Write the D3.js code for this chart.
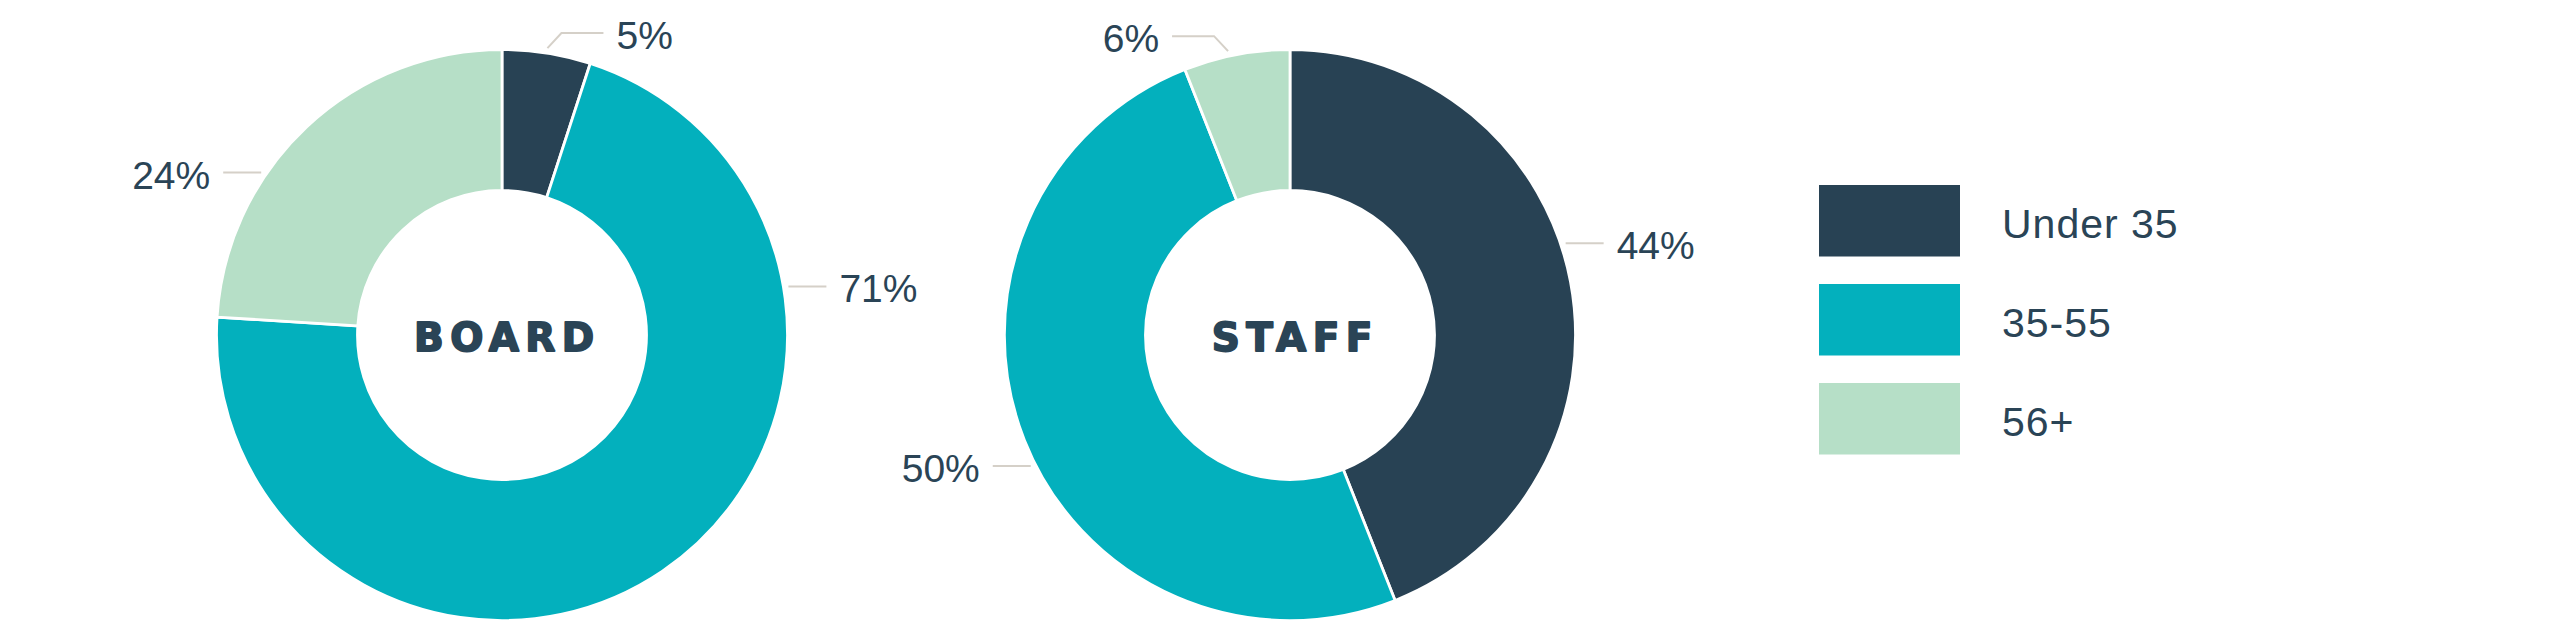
<!DOCTYPE html>
<html>
<head>
<meta charset="utf-8">
<script src="https://cdn.jsdelivr.net/npm/d3@7"></script>
<style>
  html, body { margin: 0; padding: 0; background: #ffffff; }
  svg { display: block; }
</style>
</head>
<body>
<svg id="chart" width="2560" height="640"></svg>
<script>
// ---- data ----
const categories = ["Under 35", "35-55", "56+"];
const boardValues = [5, 71, 24];
const staffValues = [44, 50, 6];
const chartTitles = ["BOARD", "STAFF"];

// ---- layout / style ----
const W = 2560, H = 640;
const colors = ["#284254", "#03b0bd", "#b6dfc7"];
const textColor = "#2a4456";
const leaderColor = "#d5d0c8";
const outerR = 285.5, innerR = 144.5;
// where along each slice its label sits (0 = slice start, 1 = slice end), and whether the leader has an elbow
const labelLayout = [
  [{f: 0.5, elbow: true}, {f: 0.244, elbow: false}, {f: 0.352, elbow: false}],
  [{f: 0.452, elbow: false}, {f: 0.471, elbow: false}, {f: 0.43, elbow: true}]
];

const svg = d3.select("#chart");
const color = d3.scaleOrdinal().domain(categories).range(colors);
const centerX = d3.scalePoint().domain(chartTitles).range([502, 1290]);
const cy = 335;

const pie = d3.pie().sort(null).value(d => d.value);
const arc = d3.arc().innerRadius(innerR).outerRadius(outerR);

const polar = (r, a) => [r * Math.sin(a), -r * Math.cos(a)];

[boardValues, staffValues].forEach((vals, ci) => {
  const title = chartTitles[ci];
  const g = svg.append("g").attr("transform", `translate(${centerX(title)},${cy})`);
  const data = pie(categories.map((c, i) => ({cat: c, value: vals[i]})));

  g.selectAll("path.slice").data(data).enter().append("path")
    .attr("class", "slice")
    .attr("d", arc)
    .attr("fill", d => color(d.data.cat))
    .attr("stroke", "#ffffff")
    .attr("stroke-width", 2.8)
    .attr("stroke-linejoin", "miter");

  // labels
  data.forEach((d, i) => {
    const lay = labelLayout[ci][i];
    const a = d.startAngle + (d.endAngle - d.startAngle) * lay.f;
    const side = Math.sin(a) >= 0 ? 1 : -1;
    const p0 = polar(outerR + 5, a);
    let pts;
    if (lay.elbow) {
      const p1 = [p0[0] + side * 14, p0[1] - 15];
      const p2 = [p1[0] + side * 42, p1[1]];
      pts = [p0, p1, p2];
    } else {
      const p2 = [p0[0] + side * 38, p0[1]];
      pts = [p0, p2];
    }
    g.append("path")
      .attr("d", d3.line()(pts))
      .attr("fill", "none")
      .attr("stroke", leaderColor)
      .attr("stroke-width", 2);
    const end = pts[pts.length - 1];
    g.append("text")
      .attr("x", end[0] + side * 13)
      .attr("y", end[1] + 16)
      .attr("text-anchor", side > 0 ? "start" : "end")
      .attr("font-family", "'Liberation Sans', Arial, sans-serif")
      .attr("font-size", 39)
      .attr("fill", textColor)
      .text(d3.format("d")(d.data.value) + "%");
  });

  // center title
  const ls = 6.4;
  g.append("text")
    .attr("x", ls / 2 + 2)
    .attr("y", 15.7)
    .attr("text-anchor", "middle")
    .attr("font-family", "'DejaVu Sans', sans-serif")
    .attr("font-weight", "bold")
    .attr("font-size", 39)
    .attr("letter-spacing", ls)
    .attr("fill", textColor)
    .attr("stroke", textColor)
    .attr("stroke-width", 1.8)
    .attr("stroke-linejoin", "round")
    .text(title);
});

// legend
const legendY = d3.scalePoint().domain(categories).range([185, 383]);
const lg = svg.append("g");
const items = lg.selectAll("g.item").data(categories).enter().append("g")
  .attr("class", "item")
  .attr("transform", d => `translate(1819,${legendY(d)})`);
items.append("rect")
  .attr("width", 141)
  .attr("height", 71.5)
  .attr("fill", d => color(d));
items.append("text")
  .attr("x", 183)
  .attr("y", 52.5)
  .attr("font-family", "'Liberation Sans', Arial, sans-serif")
  .attr("font-size", 41)
  .attr("letter-spacing", 1)
  .attr("fill", textColor)
  .text(d => d);
</script>
</body>
</html>
